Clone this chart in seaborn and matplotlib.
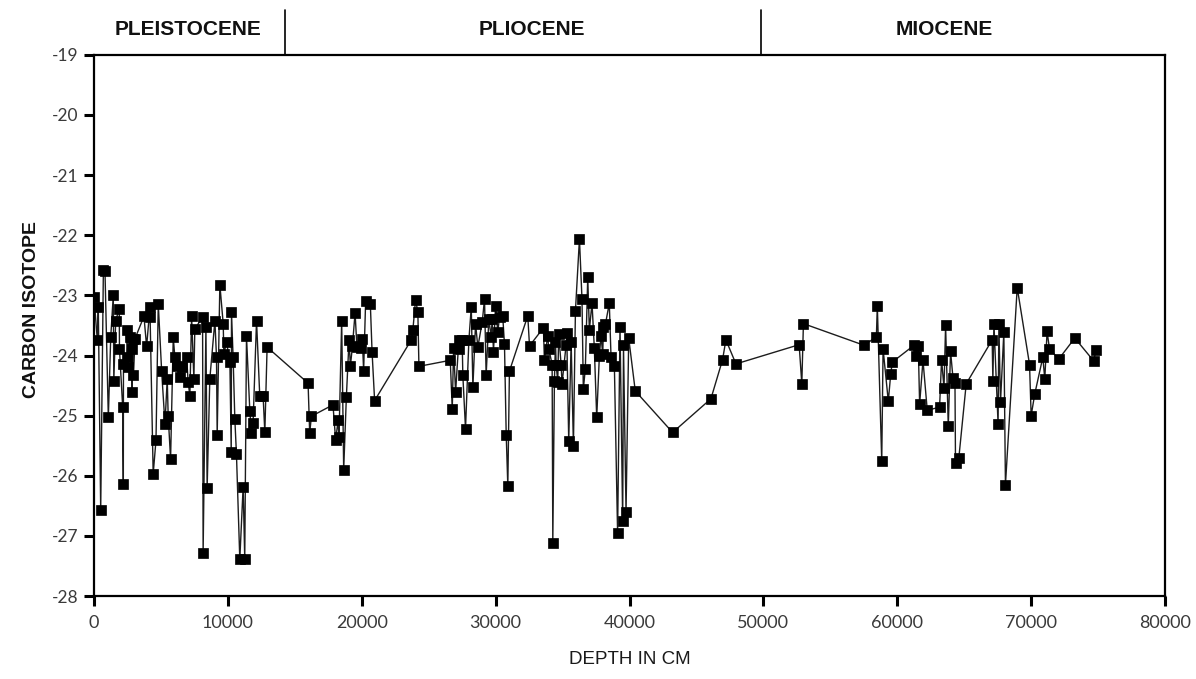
import matplotlib
matplotlib.use("Agg")
import matplotlib.pyplot as plt
import seaborn as sns
import pandas as pd

# Core depth (cm) and carbon isotope values
depth_cm = [
    0, 250, 320, 500, 700, 820, 1070, 1250, 1440, 1480, 1620, 1890, 1900, 2140, 2190, 2200,
    2440, 2480, 2560, 2690, 2810, 2830, 2930, 2950, 3060, 3730, 3930, 4180, 4190, 4420, 4630,
    4800, 5050, 5300, 5470, 5540, 5720, 5920, 6040, 6170, 6420, 6540, 6920, 7030, 7160, 7290,
    7460, 7530, 8110, 8150, 8360, 8450, 8650, 9030, 9150, 9200, 9400, 9650, 9700, 9900, 10150,
    10250, 10270, 10390, 10520, 10640, 10890, 11140, 11260, 11390, 11640, 11760, 11880, 12140,
    12380, 12630, 12760, 12930,
    15990, 16110, 16240, 17850, 18050, 18230, 18300, 18500, 18650, 18850, 19050, 19150, 19300,
    19500, 19640, 19970, 20040, 20140, 20290, 20640, 20770, 20960, 23700, 23820, 24020, 24190,
    24270, 26610, 26760, 26860, 27010, 27250, 27300, 27500, 27550, 27750, 28000, 28180, 28300,
    28500, 28670, 29000, 29170, 29290, 29490, 29670, 29740, 29840, 29990, 30160, 30290, 30530,
    30660, 30790, 30910, 31030, 32400, 32530, 33570, 33640, 33890, 33970, 34220, 34270, 34390,
    34470, 34520, 34640, 34710, 34890, 34960, 35260, 35310, 35460, 35640, 35810, 35960, 36260,
    36450, 36550, 36700, 36880, 37000, 37200, 37370, 37550, 37750, 37870, 38000, 38050, 38200,
    38490, 38620, 38870, 39110, 39290, 39490, 39550, 39740, 39940, 40430, 43220, 46080, 46950,
    47200, 47950,
    52670, 52870, 52990, 57520, 58440, 58510, 58840, 58940, 59330, 59510, 59630, 61250, 61370,
    61570, 61670, 61920, 62240, 63160, 63310, 63490, 63610, 63810, 63980, 64160, 64310, 64350,
    64600, 65150, 67090, 67140, 67220, 67530, 67590, 67710, 67960, 68080, 68960, 69880, 70000,
    70270, 70870, 71020, 71190, 71370, 72060, 73260, 74670, 74850,
]

carbon_isotope = [
    -23.03, -23.75, -23.19, -26.57, -22.58, -22.60, -25.03, -23.69, -23.00, -24.42, -23.42,
    -23.22, -23.89, -24.85, -26.13, -24.14, -24.03, -23.57, -24.19, -23.69, -23.89, -24.61,
    -23.72, -24.33, -23.72, -23.35, -23.85, -23.19, -23.36, -25.97, -25.41, -23.14, -24.25,
    -25.14, -24.39, -25.00, -25.72, -23.70, -24.03, -24.17, -24.36, -24.19, -24.03, -24.44,
    -24.67, -23.35, -24.39, -23.56, -23.36, -27.29, -23.52, -26.21, -24.39, -23.42, -24.03,
    -25.33, -22.82, -23.47, -23.97, -23.78, -24.11, -25.61, -23.28, -24.03, -25.06, -25.64,
    -27.39, -26.18, -27.39, -23.68, -24.93, -25.29, -25.13, -23.42, -24.67, -24.67, -25.28,
    -23.86,
    -24.46, -25.29, -25.01, -24.82, -25.41, -25.08, -25.36, -23.42, -25.90, -24.69, -23.74,
    -24.18, -23.85, -23.29, -23.86, -23.87, -23.72, -24.25, -23.09, -23.14, -23.94, -24.75,
    -23.74, -23.57, -23.07, -23.28, -24.18, -24.08, -24.89, -23.87, -24.61, -23.75, -23.89,
    -23.75, -24.33, -25.22, -23.75, -23.19, -24.53, -23.47, -23.86, -23.44, -23.06, -24.33,
    -23.40, -23.69, -23.39, -23.94, -23.17, -23.61, -23.36, -23.35, -23.81, -25.32, -26.17,
    -24.26, -23.34, -23.84, -23.54, -24.07, -23.67, -23.89, -24.15, -27.11, -24.43, -23.78,
    -24.15, -24.44, -23.64, -24.15, -24.47, -23.83, -23.63, -25.42, -23.78, -25.50, -23.26,
    -22.06, -23.06, -24.56, -24.22, -22.70, -23.57, -23.13, -23.87, -25.03, -24.00, -23.67,
    -23.98, -23.53, -23.48, -23.13, -24.03, -24.18, -26.96, -23.52, -26.76, -23.83, -26.61,
    -23.71, -24.59, -25.28, -24.72, -24.07, -23.74, -24.14,
    -23.82, -24.47, -23.47, -23.83, -23.69, -23.17, -25.76, -23.89, -24.76, -24.31, -24.11,
    -23.83, -24.00, -23.85, -24.81, -24.08, -24.91, -24.86, -24.07, -24.54, -23.50, -25.18,
    -23.93, -24.37, -24.46, -25.79, -25.70, -24.47, -23.74, -24.43, -23.47, -25.14, -23.48,
    -24.78, -23.61, -26.15, -22.87, -24.15, -25.00, -24.64, -24.03, -24.39, -23.60, -23.89,
    -24.06, -23.71, -24.09, -23.91,
]

# Epoch boundaries along the core and their names
epoch_names = ["PLEISTOCENE", "PLIOCENE", "MIOCENE"]
epoch_bounds = [14250, 49800]
epoch_label_x = [7000, 32700, 63500]

y_ticks = [-19, -20, -21, -22, -23, -24, -25, -26, -27, -28]
x_ticks = [0, 10000, 20000, 30000, 40000, 50000, 60000, 70000, 80000]

sns.set_style("ticks")
plt.rcParams["font.family"] = ["Liberation Sans", "DejaVu Sans"]
plt.rcParams["axes.unicode_minus"] = False
plt.rcParams["xtick.color"] = "black"
plt.rcParams["ytick.color"] = "black"

df = pd.DataFrame({"depth": depth_cm, "isotope": carbon_isotope})

fig = plt.figure(figsize=(11.96, 6.79), dpi=100)
ax = fig.add_axes([0.0786, 0.1222, 0.8955, 0.797])

sns.lineplot(
    data=df, x="depth", y="isotope", ax=ax, estimator=None, sort=True,
    color="#1c1c1c", linewidth=1.0, marker="s", markersize=7.5,
    markerfacecolor="black", markeredgecolor="black", markeredgewidth=0.5,
)

ax.set_xlim(0, 80000)
ax.set_ylim(-28, -19)
ax.set_xticks(x_ticks)
ax.set_xticklabels([str(t) for t in x_ticks])
ax.set_yticks(y_ticks)
ax.set_yticklabels([str(t) for t in y_ticks])

for side in ["left", "right", "top", "bottom"]:
    ax.spines[side].set_visible(True)
    ax.spines[side].set_linewidth(1.6)
    ax.spines[side].set_color("black")

ax.tick_params(axis="both", which="major", direction="out", length=7, width=2.2,
               color="black", labelcolor="#3a3a3a")
ax.tick_params(axis="x", labelsize=13, pad=7)
ax.tick_params(axis="y", labelsize=12.5, pad=4)
for lab in ax.get_xticklabels() + ax.get_yticklabels():
    lab.set_fontfamily(["Lato", "DejaVu Sans"])
    lab.set_fontweight("normal")
    lab.set_color("#3a3a3a")

ax.set_xlabel("DEPTH IN CM", fontsize=13.5, labelpad=14, color="#1a1a1a")
ax.set_ylabel("CARBON ISOTOPE", fontsize=14, fontweight="bold", color="#111111")
ax.yaxis.set_label_coords(-0.05, 0.53)

# Epoch header above the plot frame
for b in epoch_bounds:
    ax.axvline(b, ymin=1.0, ymax=1.083, color="black", linewidth=1.2, clip_on=False)
for name, lx in zip(epoch_names, epoch_label_x):
    ax.text(lx, 1.046, name, transform=ax.get_xaxis_transform(), ha="center", va="center",
            fontsize=15, fontweight="bold", color="#111111")

fig.savefig("out.png", dpi=100)
